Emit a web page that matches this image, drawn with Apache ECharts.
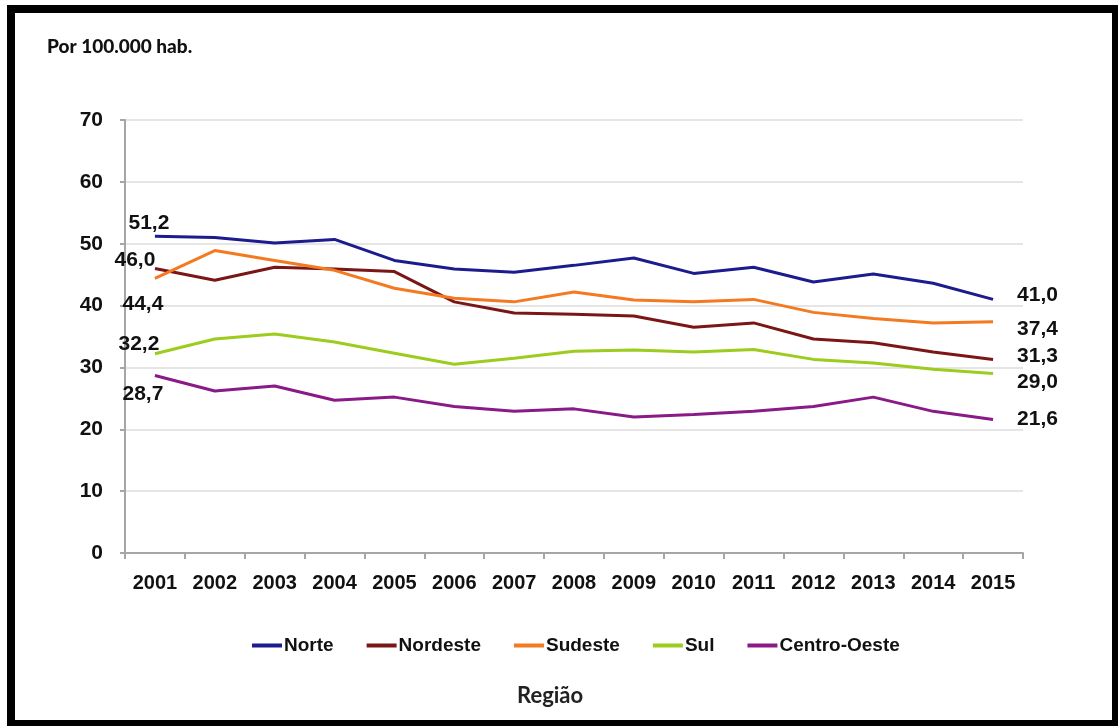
<!DOCTYPE html>
<html>
<head>
<meta charset="utf-8">
<script src="https://cdn.jsdelivr.net/npm/echarts@6/dist/echarts.min.js"></script>
<style>
  html, body { margin: 0; padding: 0; background: #fff; }
  #chart { position: absolute; left: 0; top: 0; width: 1118px; height: 726px; }
  #frame { position: absolute; left: 7px; top: 5px; width: 1111px; height: 721px; box-sizing: border-box;
           border-style: solid; border-color: #000; border-width: 8px 6px 6px 8px; pointer-events: none; }
</style>
</head>
<body>
<div id="chart"></div>
<div id="frame"></div>
<script>
// ---- data ----
const years = ["2001", "2002", "2003", "2004", "2005", "2006", "2007", "2008", "2009", "2010", "2011", "2012", "2013", "2014", "2015"];
const norte       = [51.2, 51.0, 50.1, 50.7, 47.3, 45.9, 45.4, 46.5, 47.7, 45.2, 46.2, 43.8, 45.1, 43.6, 41.0];
const nordeste    = [46.0, 44.1, 46.2, 45.9, 45.5, 40.6, 38.8, 38.6, 38.3, 36.5, 37.2, 34.6, 34.0, 32.5, 31.3];
const sudeste     = [44.4, 48.9, 47.3, 45.7, 42.8, 41.2, 40.6, 42.2, 40.9, 40.6, 41.0, 38.9, 37.9, 37.2, 37.4];
const sul         = [32.2, 34.6, 35.4, 34.1, 32.3, 30.5, 31.5, 32.6, 32.8, 32.5, 32.9, 31.3, 30.7, 29.7, 29.0];
const centroOeste = [28.7, 26.2, 27.0, 24.7, 25.2, 23.7, 22.9, 23.3, 22.0, 22.4, 22.9, 23.7, 25.2, 22.9, 21.6];

// label offsets (first point, last point) are styling only
const regions = [
  { name: "Norte",        values: norte,       color: "#1c1c8e", first: [-6, -13],  last: [0, -4] },
  { name: "Nordeste",     values: nordeste,    color: "#7b1616", first: [-20, -8],  last: [0, -3] },
  { name: "Sudeste",      values: sudeste,     color: "#f47a22", first: [-12, 26],  last: [0, 8] },
  { name: "Sul",          values: sul,         color: "#9bcc1e", first: [-16, -10], last: [0, 9] },
  { name: "Centro-Oeste", values: centroOeste, color: "#8a1a88", first: [-12, 19],  last: [0, 0] }
];

const FONT = "'Liberation Sans', Arial, sans-serif";
const fmt = (v) => v.toFixed(1).replace(".", ",");
const labelBase = { show: true, color: "#111", fontFamily: FONT, fontWeight: "bold", fontSize: 21,
  formatter: (p) => fmt(p.value) };

const series = regions.map((r) => ({
  name: r.name, type: "line", symbol: "circle", symbolSize: 0, showAllSymbol: true, z: 3,
  lineStyle: { color: r.color, width: 3 }, itemStyle: { color: r.color },
  data: r.values.map((v, i) => {
    if (i === 0) return { value: v, label: { ...labelBase, position: "inside", offset: r.first } };
    if (i === r.values.length - 1) return { value: v, label: { ...labelBase, position: "right", distance: 24, offset: r.last } };
    return v;
  })
}));

const chart = echarts.init(document.getElementById("chart"));
chart.setOption({
  animation: false,
  textStyle: { fontFamily: FONT },
  grid: { left: 125, right: 95, top: 120, bottom: 173 },
  graphic: [
    { type: "text", left: 47, top: 37, style: { text: "Por 100.000 hab.", fontFamily: "Lato", fontWeight: 900, fontSize: 19, fill: "#111" } },
    { type: "text", left: 517, top: 685, style: { text: "Região", fontFamily: "Lato", fontWeight: "bold", fontSize: 22, fill: "#222" } }
  ],
  legend: {
    left: 247, top: 631, itemWidth: 30, itemHeight: 4, itemGap: 33, icon: "rect",
    textStyle: { color: "#111", fontFamily: FONT, fontWeight: "bold", fontSize: 19, padding: [0, 0, 0, -3] },
    data: regions.map((r) => r.name)
  },
  xAxis: {
    type: "category", data: years, boundaryGap: true,
    axisLine: { lineStyle: { color: "#a6a6a6", width: 2 } },
    axisTick: { show: true, length: 6, lineStyle: { color: "#a6a6a6", width: 2 } },
    axisLabel: { color: "#111", fontWeight: "bold", fontSize: 20, margin: 20 }
  },
  yAxis: {
    type: "value", min: 0, max: 70, interval: 10,
    axisLine: { show: true, lineStyle: { color: "#a6a6a6", width: 2 } },
    axisTick: { show: true, length: 5, lineStyle: { color: "#a6a6a6", width: 2 } },
    splitLine: { lineStyle: { color: "#dcdcdc", width: 1.5 } },
    axisLabel: { color: "#111", fontWeight: "bold", fontSize: 21, margin: 22 }
  },
  series
});
</script>
</body>
</html>
